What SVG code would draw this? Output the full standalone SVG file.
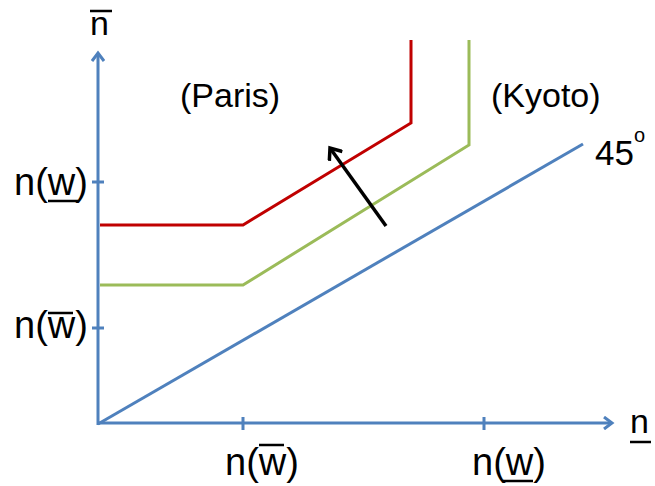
<svg xmlns="http://www.w3.org/2000/svg" width="655" height="486" viewBox="0 0 655 486">
<style>
.t{font-family:"Liberation Sans",Arial,sans-serif;fill:#000}
.lbl{font-size:38px}
.city{font-size:34px}
.ax{stroke:#4F81BD;stroke-width:3;fill:none}
.bar{stroke:#000;stroke-width:2.5}
</style>
<defs>
<marker id="bh" markerWidth="14" markerHeight="14" refX="11" refY="7" orient="auto" markerUnits="userSpaceOnUse">
<path d="M3,1 L11,7 L3,13" fill="none" stroke="#4F81BD" stroke-width="3"/>
</marker>
<marker id="kh" markerWidth="18" markerHeight="18" refX="14" refY="9" orient="auto" markerUnits="userSpaceOnUse">
<path d="M4,1 L14,9 L4,17" fill="none" stroke="#000" stroke-width="3.5"/>
</marker>
</defs>
<rect width="655" height="486" fill="#fff"/>
<g id="connectors">
<line id="y-axis" class="ax" x1="98" y1="425" x2="98" y2="53" marker-end="url(#bh)"/>
<line id="x-axis" class="ax" x1="97" y1="423" x2="612" y2="423" marker-end="url(#bh)"/>
<line class="ax" x1="92" y1="182" x2="104" y2="182"/>
<line class="ax" x1="92" y1="328" x2="104" y2="328"/>
<line class="ax" x1="243" y1="417" x2="243" y2="430"/>
<line class="ax" x1="484" y1="417" x2="484" y2="430"/>
<line id="diag45" class="ax" x1="98" y1="424" x2="583" y2="144"/>
<polyline id="red" points="100,225 243,225 411,123 411,40" fill="none" stroke="#C00000" stroke-width="3"/>
<polyline id="green" points="100,285 243,285 469,145 469,40" fill="none" stroke="#9BBB59" stroke-width="3"/>
<line id="shift" x1="386" y1="226" x2="330" y2="148" stroke="#000" stroke-width="3.5" marker-end="url(#kh)"/>
</g>
<g id="label-nbar-top">
<text class="t" x="90" y="35" font-size="34">n</text>
<line class="bar" x1="90" y1="11" x2="112" y2="11"/>
</g>
<g id="label-y-nw-under">
<text class="t lbl" x="14" y="195">n(w)</text>
<line class="bar" x1="48" y1="201" x2="78" y2="201"/>
</g>
<g id="label-y-nw-bar">
<text class="t lbl" x="14" y="338">n(w)</text>
<line class="bar" x1="48" y1="313" x2="73" y2="313"/>
</g>
<g id="label-x-nw-bar">
<text class="t lbl" x="225" y="475">n(w)</text>
<line class="bar" x1="259" y1="445" x2="284" y2="445"/>
</g>
<g id="label-x-nw-under">
<text class="t lbl" x="472" y="475">n(w)</text>
<line class="bar" x1="503" y1="481" x2="533" y2="481"/>
</g>
<g id="label-n-under">
<text class="t" x="630" y="433" font-size="34">n</text>
<line class="bar" x1="630" y1="442" x2="651" y2="442"/>
</g>
<g id="label-paris"><text class="t city" x="180" y="107">(Paris)</text></g>
<g id="label-kyoto"><text class="t city" x="491" y="107">(Kyoto)</text></g>
<g id="label-45"><text class="t" x="595" y="165" font-size="35">45<tspan font-size="20" dy="-23">o</tspan></text></g>
</svg>
